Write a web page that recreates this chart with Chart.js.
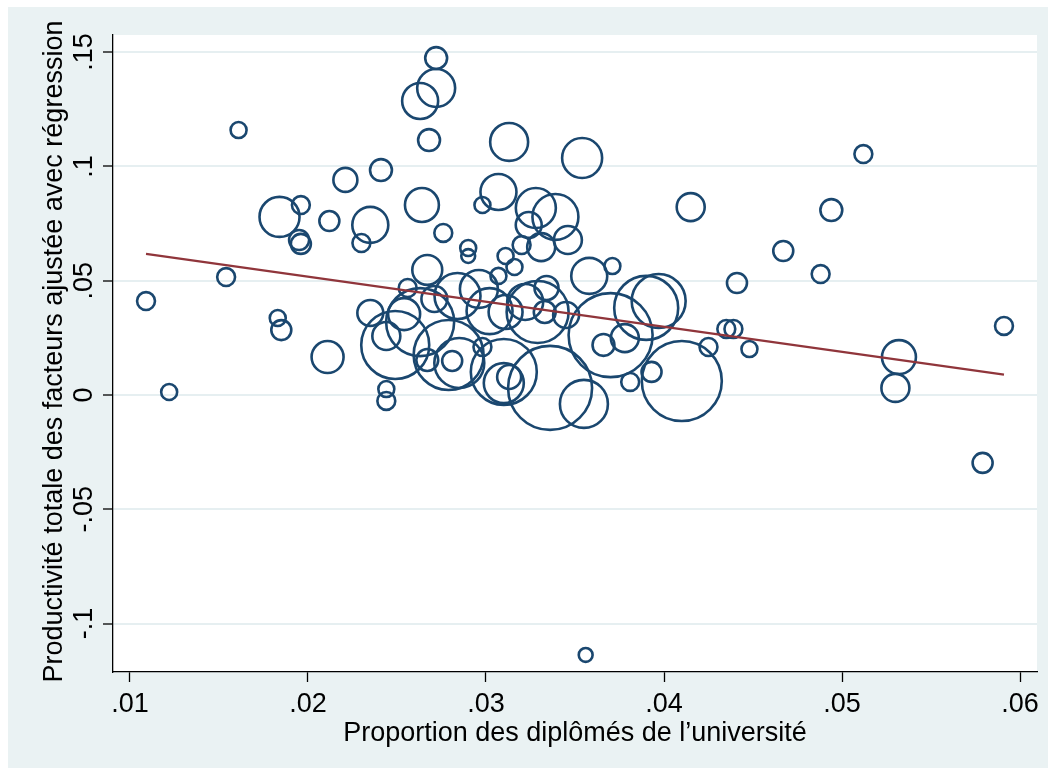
<!DOCTYPE html>
<html lang="fr">
<head>
<meta charset="utf-8">
<title>Productivité et diplômés</title>
<script src="https://cdn.jsdelivr.net/npm/chart.js@4.4.1/dist/chart.umd.min.js"></script>
<style>
  html, body { margin: 0; padding: 0; background: #ffffff; }
  #wrap { width: 1055px; height: 770px; }
</style>
</head>
<body>
<div id="wrap"><canvas id="chart" width="1055" height="770"></canvas></div>
<script>
// Proportion of university graduates (x), adjusted TFP (y), and the weight of each region (bubble area)
const share = [
  0.0109, 0.0122, 0.0154, 0.0161, 0.0184, 0.0196, 0.0195, 0.0196, 0.0212, 0.0221,
  0.0183, 0.0185, 0.0211, 0.0241, 0.0235, 0.0230, 0.0272, 0.0272, 0.0263, 0.0268,
  0.0313, 0.0354, 0.0264, 0.0276, 0.0307, 0.0298, 0.0290, 0.0290, 0.0267, 0.0311,
  0.0328, 0.0339, 0.0324, 0.0320, 0.0331, 0.0346, 0.0316, 0.0307, 0.0256, 0.0235,
  0.0254, 0.0244, 0.0249, 0.0263, 0.0271, 0.0284, 0.0296, 0.0302, 0.0311, 0.0322,
  0.0329, 0.0334, 0.0333, 0.0345, 0.0358, 0.0371, 0.0370, 0.0390, 0.0397, 0.0366,
  0.0378, 0.0381, 0.0393, 0.0410, 0.0336, 0.0355, 0.0310, 0.0310, 0.0313, 0.0298,
  0.0279, 0.0285, 0.0281, 0.0267, 0.0244, 0.0244, 0.0415, 0.0467, 0.0494, 0.0512,
  0.0488, 0.0441, 0.0435, 0.0439, 0.0425, 0.0448, 0.0532, 0.0530, 0.0591, 0.0579,
  0.0356
];
const tfp = [
  0.0411, 0.0013, 0.0516, 0.1159, 0.0779, 0.0831, 0.0678, 0.0661, 0.0761, 0.0941,
  0.0337, 0.0284, 0.0166, 0.0984, 0.0744, 0.0665, 0.1474, 0.1343, 0.1286, 0.1115,
  0.1107, 0.1037, 0.0831, 0.0709, 0.0888, 0.0831, 0.0643, 0.0608, 0.0547, 0.0608,
  0.0818, 0.0779, 0.0744, 0.0656, 0.0647, 0.0678, 0.0560, 0.0521, 0.0468, 0.0359,
  0.0354, 0.0258, 0.0219, 0.0319, 0.0420, 0.0433, 0.0464, 0.0367, 0.0363, 0.0407,
  0.0363, 0.0468, 0.0363, 0.0350, 0.0521, 0.0564, 0.0262, 0.0381, 0.0411, 0.0219,
  0.0249, 0.0057, 0.0101, 0.0061, 0.0031, -0.0039, 0.0101, 0.0052, 0.0079, 0.0210,
  0.0175, 0.0140, 0.0149, 0.0153, 0.0026, -0.0026, 0.0822, 0.0630, 0.0809, 0.1054,
  0.0529, 0.0490, 0.0289, 0.0289, 0.0210, 0.0201, 0.0166, 0.0031, 0.0302, -0.0297,
  -0.1137
];
const weights = [
  20, 16, 20, 16, 100, 20, 25, 25, 25, 36,
  16, 25, 64, 30, 81, 20, 30, 90, 81, 30,
  90, 100, 72, 20, 81, 16, 16, 12, 56, 16,
  100, 132, 42, 20, 49, 49, 16, 16, 20, 42,
  64, 49, 289, 289, 42, 132, 90, 132, 72, 81,
  240, 36, 30, 42, 81, 16, 441, 256, 182, 30,
  49, 20, 25, 400, 441, 144, 272, 100, 36, 20,
  306, 156, 25, 30, 16, 20, 49, 25, 30, 20,
  20, 25, 20, 20, 20, 16, 72, 49, 20, 25,
  12
];

// Fitted regression line (endpoints at the smallest and largest share)
const fitShare = [0.0109, 0.0591];
const fitTfp = [0.0617, 0.0089];

// Axis ticks
const xTicks = [0.01, 0.02, 0.03, 0.04, 0.05, 0.06];
const yTicks = [-0.1, -0.05, 0, 0.05, 0.1, 0.15];

const xTitle = 'Proportion des diplômés de l’université';
const yTitle = 'Productivité totale des facteurs ajustée avec régression';

const FONT = '"Liberation Sans", Arial, Helvetica, sans-serif';
const NAVY = '#1a476f';
const MAROON = '#90353b';
const BG = '#eaf2f3';

// Stata-style label: drop the leading zero (0.05 -> .05, -0.1 -> -.1)
const fmt = v => String(v).replace(/^(-?)0\./, '$1.');

const bubbles = share.map((x, i) => ({ x: x, y: tfp[i], r: 2 * Math.sqrt(weights[i]) }));
const fitLine = fitShare.map((x, i) => ({ x: x, y: fitTfp[i] }));

const frame = {
  id: 'frame',
  beforeDraw(chart) {
    const { ctx, chartArea: a } = chart;
    ctx.save();
    ctx.fillStyle = '#ffffff';
    ctx.fillRect(0, 0, chart.width, chart.height);
    ctx.fillStyle = BG;
    ctx.fillRect(8, 7, 1040, 761);
    ctx.fillStyle = '#ffffff';
    ctx.fillRect(a.left, a.top, a.right - a.left, a.bottom - a.top);
    ctx.restore();
  },
  afterDraw(chart) {
    const { ctx, chartArea: a } = chart;
    const xs = chart.scales.x, ys = chart.scales.y;
    ctx.save();
    ctx.fillStyle = '#000000';
    ctx.font = '27px ' + FONT;

    // x tick labels
    ctx.textAlign = 'center';
    ctx.textBaseline = 'alphabetic';
    xs.ticks.forEach(t => {
      ctx.fillText(fmt(t.value), xs.getPixelForValue(t.value), 712);
    });
    // x title
    ctx.fillText(xTitle, (a.left + a.right) / 2, 741);

    // y tick labels, vertical
    ys.ticks.forEach(t => {
      ctx.save();
      ctx.translate(92, ys.getPixelForValue(t.value));
      ctx.rotate(-Math.PI / 2);
      ctx.fillText(fmt(t.value), 0, 0);
      ctx.restore();
    });
    // y title
    ctx.save();
    ctx.translate(62, (a.top + a.bottom) / 2 - 2);
    ctx.rotate(-Math.PI / 2);
    ctx.fillText(yTitle, 0, 0);
    ctx.restore();

    ctx.restore();
  }
};

new Chart(document.getElementById('chart'), {
  data: {
    datasets: [
      {
        type: 'line',
        data: fitLine,
        borderColor: MAROON,
        borderWidth: 2.2,
        pointRadius: 0,
        fill: false,
        order: 0
      },
      {
        type: 'bubble',
        data: bubbles,
        backgroundColor: 'rgba(0,0,0,0)',
        borderColor: NAVY,
        borderWidth: 2.6,
        order: 1
      }
    ]
  },
  options: {
    responsive: false,
    animation: false,
    devicePixelRatio: 1,
    events: [],
    layout: { autoPadding: false, padding: { left: 0, top: 35, right: 18, bottom: 0 } },
    plugins: {
      legend: { display: false },
      tooltip: { enabled: false }
    },
    scales: {
      x: {
        type: 'linear',
        min: 0.009045,
        max: 0.060955,
        afterBuildTicks: s => { s.ticks = xTicks.map(v => ({ value: v })); },
        afterFit: s => { s.height = 98; },
        ticks: { display: false },
        grid: {
          drawOnChartArea: false,
          drawTicks: true,
          tickLength: 10,
          tickColor: '#000000',
          tickWidth: 1.3
        },
        border: { display: true, color: '#000000', width: 1.3 }
      },
      y: {
        type: 'linear',
        min: -0.12117,
        max: 0.15748,
        afterBuildTicks: s => { s.ticks = yTicks.map(v => ({ value: v })); },
        afterFit: s => { s.width = 113; },
        ticks: { display: false },
        grid: {
          drawOnChartArea: true,
          color: '#e6eff1',
          lineWidth: 2,
          drawTicks: true,
          tickLength: 10,
          tickColor: '#000000',
          tickWidth: 1.3
        },
        border: { display: true, color: '#000000', width: 1.3 }
      }
    }
  },
  plugins: [frame]
});
</script>
</body>
</html>
